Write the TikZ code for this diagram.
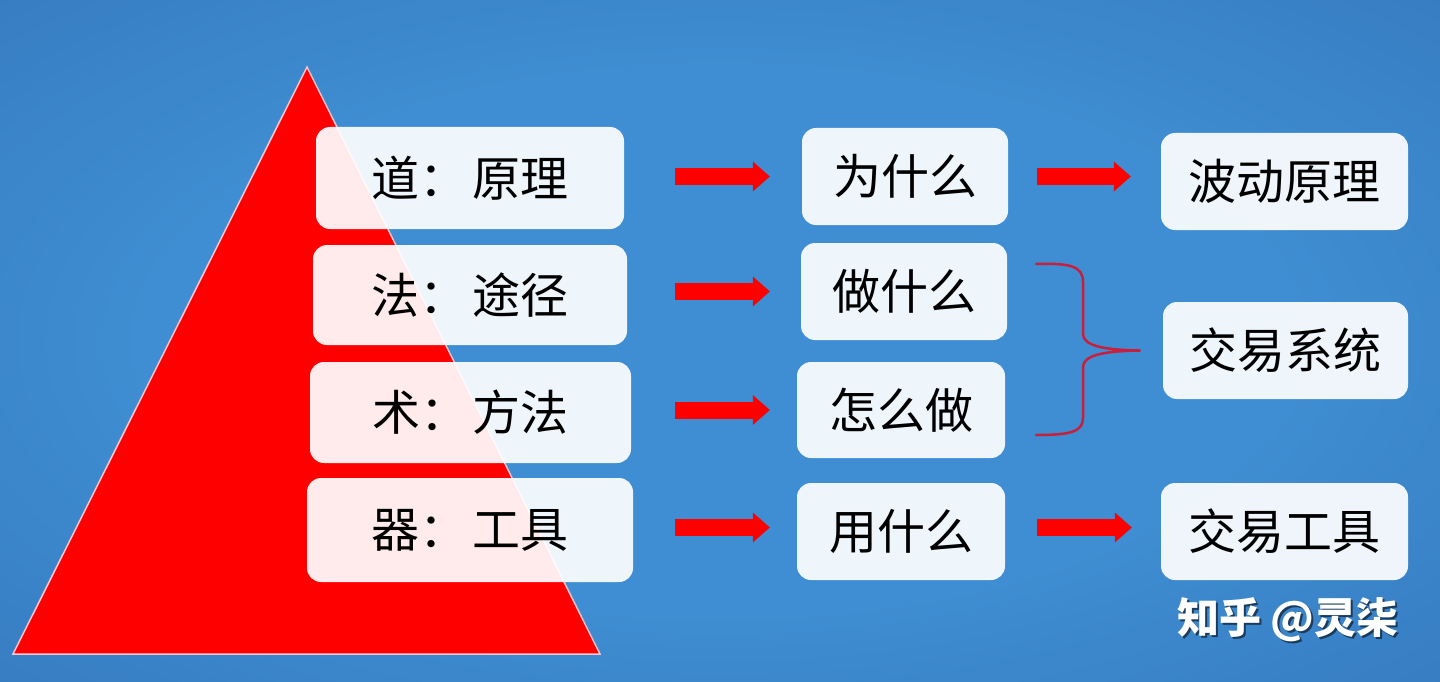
\documentclass[tikz,border=0pt]{standalone}
\usepackage{fontspec}
\setmainfont{Noto Sans CJK SC}
\usetikzlibrary{arrows.meta,calc}
\definecolor{bgA}{HTML}{3F8DD2}
\definecolor{bgB}{HTML}{2A62A7}
\definecolor{bracecol}{HTML}{C8203C}
\definecolor{tribord}{HTML}{F3C6CF}
\pgfdeclareradialshading{bgshade}{\pgfpoint{0bp}{0bp}}{color(0bp)=(bgA); color(20bp)=(bgA); color(62bp)=(bgB); color(80bp)=(bgB)}
\begin{document}
\begin{tikzpicture}[x=1pt,y=-1pt,
  box/.style={rounded corners=14pt, fill=white, fill opacity=0.92, text opacity=1, text=black,
              inner sep=0pt, font=\fontsize{48}{48}\selectfont},
  bigarrow/.style={draw=red, line width=17pt, -{Triangle[length=17pt,width=30pt,line width=0pt]}},
  brace/.style={draw=bracecol, line width=2.5pt, line cap=round, line join=round},
  wmtext/.style={font=\fontsize{42}{42}\selectfont\bfseries, inner sep=0pt}
]
\shade[shading=bgshade] (0,0) rectangle (1440,682);
\useasboundingbox (0,0) rectangle (1440,682);

% pyramid
\draw[fill=red, draw=tribord, line width=1.5pt] (307,67) -- (600,654) -- (13,654) -- cycle;

% column 1
\node[box, minimum width=308pt, minimum height=102pt] (a1) at (470,178) {道：\hspace{5pt}原理};
\node[box, minimum width=314pt, minimum height=100pt] (a2) at (470,295) {法：\hspace{5pt}途径};
\node[box, minimum width=321pt, minimum height=101pt] (a3) at (470.5,412.5) {术：\hspace{5pt}方法};
\node[box, minimum width=326pt, minimum height=104pt] (a4) at (470,530) {器：\hspace{5pt}工具};

% column 2
\node[box, minimum width=206pt, minimum height=97pt] (b1) at (905,176.5) {为什么};
\node[box, minimum width=206pt, minimum height=97pt] (b2) at (904,291.5) {做什么};
\node[box, minimum width=208pt, minimum height=96pt] (b3) at (901,410) {怎么做};
\node[box, minimum width=208pt, minimum height=97pt] (b4) at (901,531.5) {用什么};

% column 3
\node[box, minimum width=247pt, minimum height=97pt] (c1) at (1284.5,181.5) {波动原理};
\node[box, minimum width=245pt, minimum height=97pt] (c2) at (1285.5,350.5) {交易系统};
\node[box, minimum width=247pt, minimum height=97pt] (c3) at (1284.5,531.5) {交易工具};

% arrows
\draw[bigarrow, shorten <=51pt, shorten >=32pt] (a1.east |- b1.west) -- (b1.west);
\draw[bigarrow, shorten <=48pt, shorten >=31pt] (a2.east |- b2.west) -- (b2.west);
\draw[bigarrow, shorten <=44pt, shorten >=27pt] (a3.east |- b3.west) -- (b3.west);
\draw[bigarrow, shorten <=42pt, shorten >=27pt] ([yshift=4pt]a4.east |- b4.west) -- ([yshift=4pt]b4.west);
\draw[bigarrow, shorten <=29pt, shorten >=30pt] (b1.east) -- (b1.east -| c1.west);
\draw[bigarrow, shorten <=32pt, shorten >=29pt] ([yshift=4pt]b4.east) -- ([yshift=4pt]b4.east -| c3.west);

% brace
\coordinate (tip) at ([xshift=-23pt]c2.west);
\draw[brace] (1036,264) .. controls (1070,263) and (1083,266) .. (1083,282)
  -- (1083,334) .. controls (1083,346) and (1105,350) .. (tip)
  .. controls (1105,351) and (1083,355) .. (1083,367)
  -- (1083,418) .. controls (1083,432) and (1070,435) .. (1036,435);

% watermark
\node[wmtext, text=black, opacity=0.55] (wmshadow) at (1290,622) {知乎 @灵柒};
\node[wmtext, text=white] (wm) at (1288,620) {知乎 @灵柒};
\end{tikzpicture}
\end{document}
